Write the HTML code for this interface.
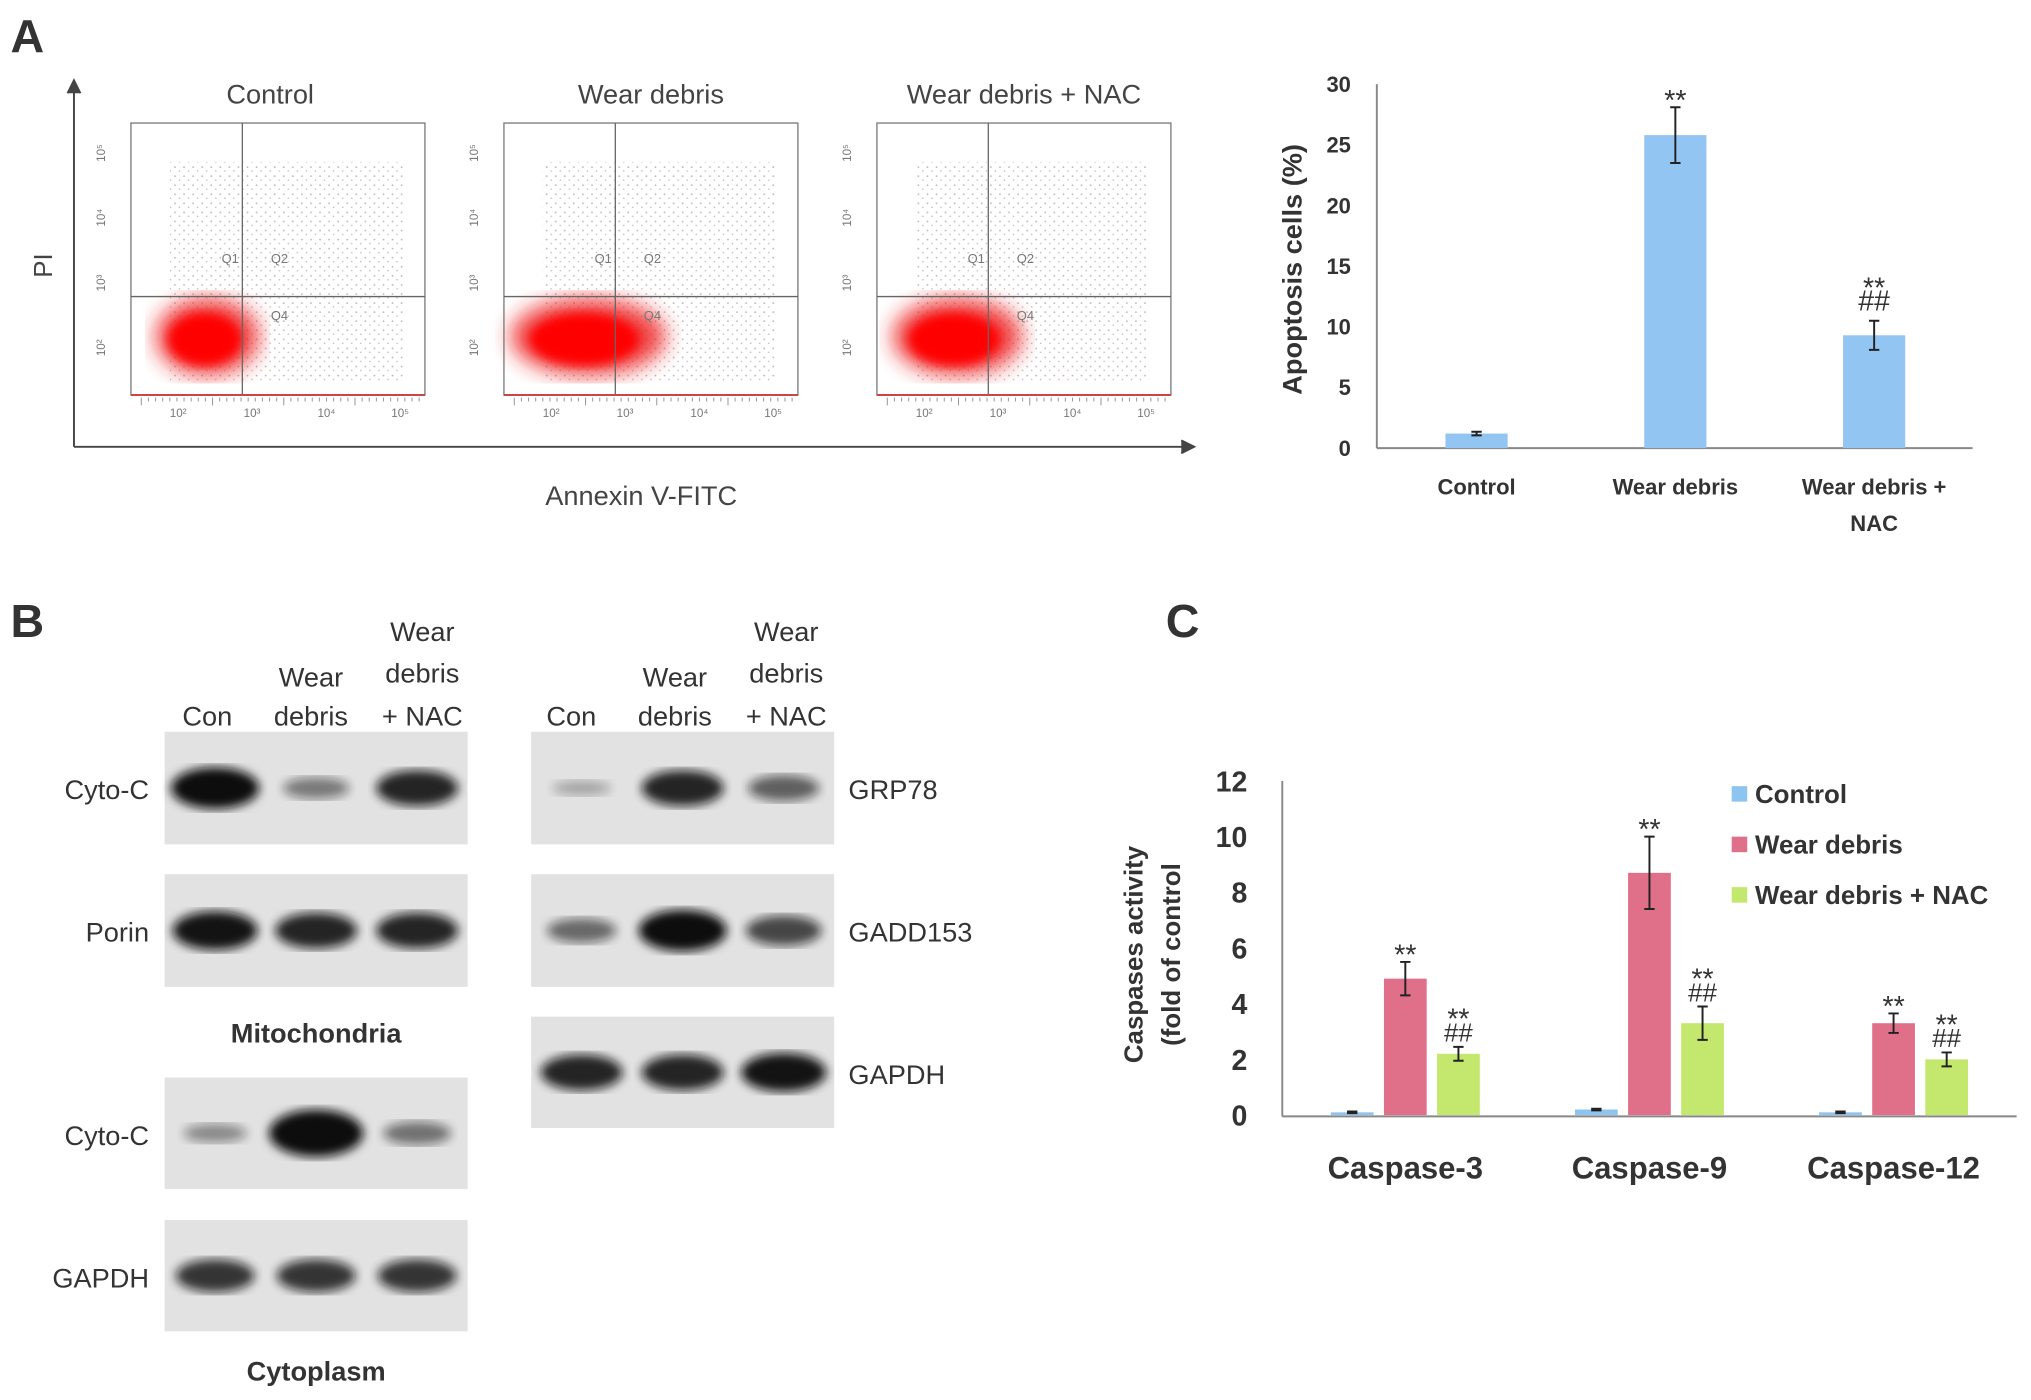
<!DOCTYPE html>
<html><head><meta charset="utf-8"><style>
html,body{margin:0;padding:0;background:#fff}
svg{display:block;font-family:"Liberation Sans",sans-serif}
</style></head><body>
<svg id="fig" width="2031" height="1400" viewBox="0 0 1568 1081" xmlns="http://www.w3.org/2000/svg">
<defs>
<filter id="blur4"><feGaussianBlur stdDeviation="4"/></filter>
<filter id="blur8"><feGaussianBlur stdDeviation="8"/></filter>
<filter id="blur2"><feGaussianBlur stdDeviation="2"/></filter>
<pattern id="dots" width="7" height="7" patternUnits="userSpaceOnUse"><circle cx="2" cy="3" r="0.7" fill="#a9a9b8"/><circle cx="5.5" cy="6" r="0.6" fill="#c0a0a8"/></pattern>
</defs>

<!-- Panel A -->
<text x="8" y="40" font-size="36" font-weight="bold" fill="#333">A</text>
<g stroke="#444" stroke-width="1.5" fill="none">
<line x1="57" y1="345" x2="57" y2="68"/><path d="M52,72 L57,62 L62,72" fill="#444"/>
<line x1="57" y1="345" x2="915" y2="345"/><path d="M912,340 L922,345 L912,350" fill="#444"/>
</g>
<text x="40" y="205" font-size="20" fill="#444" transform="rotate(-90 40 205)" text-anchor="middle">PI</text>
<text x="495" y="390" font-size="21" fill="#444" text-anchor="middle">Annexin V-FITC</text>
<g id="flowplots"></g>

<!-- Bar chart A -->
<g id="chartA"></g>

<!-- Panel B -->
<text x="8" y="492" font-size="36" font-weight="bold" fill="#333">B</text>
<g id="blots" font-size="21" fill="#333"></g>

<!-- Panel C -->
<text x="900" y="492" font-size="36" font-weight="bold" fill="#333">C</text>
<g id="chartC"></g>
</svg>
<script>
const NS="http://www.w3.org/2000/svg";
function mk(tag,attrs,parent,text){const e=document.createElementNS(NS,tag);for(const k in attrs)e.setAttribute(k,attrs[k]);if(text!==undefined)e.textContent=text;parent.appendChild(e);return e;}

// ---------- Flow plots ----------
const flowTitles=["Control","Wear debris","Wear debris + NAC"];
const flowX=[101,389,677];
const blobSpread=[1,1.5,1.25];
const fp=document.getElementById('flowplots');
flowTitles.forEach((t,i)=>{
  const x=flowX[i],y=95,w=227,h=210;
  const g=mk('g',{},fp);
  
  
  const tt=mk('text',{x:x+w/2+(i==0?-6:0),y:80,'font-size':21,'text-anchor':'middle',fill:'#444'},g,t);
  
  
  mk('rect',{x:x+30,y:y+30,width:180,height:170,fill:'url(#dots)',opacity:0.8},g);
  const s=blobSpread[i];
  mk('ellipse',{cx:x+47+s*12,cy:y+165,rx:40*s,ry:30,fill:'#e22',filter:'url(#blur8)',opacity:0.85},g);
  mk('ellipse',{cx:x+47+s*10,cy:y+167,rx:28*s,ry:20,fill:'#f00',filter:'url(#blur4)'},g);
  mk('rect',{x:x,y:y,width:w,height:h,fill:'none',stroke:'#777','stroke-width':1},g);
  mk('line',{x1:x+86,y1:y,x2:x+86,y2:y+h,stroke:'#666'},g);
  mk('line',{x1:x,y1:y+134,x2:x+w,y2:y+134,stroke:'#666'},g);
  mk('line',{x1:x,y1:y+h,x2:x+w,y2:y+h,stroke:'#c44','stroke-width':1.5},g);
  [["Q1",70,108],["Q2",108,108],["Q4",108,152]].forEach(q=>mk('text',{x:x+q[1],y:y+q[2],'font-size':10,fill:'#777'},g,q[0]));
  ["10²","10³","10⁴","10⁵"].forEach((l,j)=>{mk('text',{x:x+30+j*57,y:y+227,'font-size':9,fill:'#777'},g,l);
    mk('text',{x:x-20,y:y+180-j*50,'font-size':9,fill:'#777',transform:`rotate(-90 ${x-20} ${y+180-j*50})`},g,l);});
  for(let k=0;k<40;k++){mk('line',{x1:x+8+k*5.5,y1:y+h+2,x2:x+8+k*5.5,y2:y+h+(k%10==0?8:5),stroke:'#999','stroke-width':0.8},g);}
});

// ---------- Chart A ----------
const catsA=["Control","Wear debris","Wear debris +\nNAC"];
const valsA=[1.2,25.8,9.3];
const errA=[0.15,2.3,1.2];
const sigA=["","**","**\n##"];
const ticksA=[0,5,10,15,20,25,30];
const cA=document.getElementById('chartA');
const yA=v=>346-v*(281/30), xA=i=>1140+i*153.5;
ticksA.forEach(t=>{const e=mk('text',{x:1043,y:yA(t)+6,'font-size':17,'font-weight':'bold','text-anchor':'end',fill:'#333'},cA,t);
});
mk('line',{x1:1063,y1:65,x2:1063,y2:346,stroke:'#888','stroke-width':1.5},cA);
mk('line',{x1:1063,y1:346,x2:1523,y2:346,stroke:'#888','stroke-width':1.5},cA);
const ttA=mk('text',{x:1005,y:208,'font-size':21,'font-weight':'bold','text-anchor':'middle',fill:'#333',transform:'rotate(-90 1005 208)'},cA,'Apoptosis cells (%)');

catsA.forEach((c,i)=>{
  const b=mk('rect',{x:xA(i)-24,y:yA(valsA[i]),width:48,height:346-yA(valsA[i]),fill:'#92c5f2'},cA);
  
  const t=yA(valsA[i]+errA[i]),bo=yA(valsA[i]-errA[i]);
  mk('path',{d:`M${xA(i)},${t}V${bo}M${xA(i)-4},${t}H${xA(i)+4}M${xA(i)-4},${bo}H${xA(i)+4}`,stroke:'#222','stroke-width':1.5,fill:'none'},cA);
  c.split('\n').forEach((l,j)=>mk('text',{x:xA(i),y:382+j*28,'font-size':17,'font-weight':'bold','text-anchor':'middle',fill:'#333'},cA,l));
  sigA[i].split('\n').filter(s=>s).forEach((s,j)=>mk('text',{x:xA(i),y:t-8-(sigA[i].includes('\n')?(1-j)*20:0)+ (s=="**"?10:0),'font-size':22,'text-anchor':'middle',fill:'#333'},cA,s));
});

// ---------- Blots ----------
const bl=document.getElementById('blots');
function blot(x,y,w,h,ints,name){
  const g=mk('g',{},bl);
  
  mk('rect',{x,y,width:w,height:h,fill:'#e2e2e2'},g);
  ints.forEach((v,i)=>{if(v<=0)return;const cx=x+w*(i*2+1)/6;
    mk('ellipse',{cx,cy:y+h/2,rx:22+v*12,ry:5+v*11,fill:'#111',opacity:Math.min(1,0.25+v*0.8),filter:'url(#blur4)'},g);});
}
function lbl(x,y,t,anchor,bold){const e=mk('text',{x,y,'text-anchor':anchor||'middle','font-weight':bold?'bold':'normal',fill:'#333'},bl,t);
  }
const lx=[160,240,326],rx=[441,521,607];
lbl(lx[0],560,"Con");lbl(lx[1],530,"Wear");lbl(lx[1],560,"debris");lbl(lx[2],495,"Wear");lbl(lx[2],527,"debris");lbl(lx[2],560,"+ NAC");
lbl(rx[0],560,"Con");lbl(rx[1],530,"Wear");lbl(rx[1],560,"debris");lbl(rx[2],495,"Wear");lbl(rx[2],527,"debris");lbl(rx[2],560,"+ NAC");
blot(127,565,234,87,[1.0,0.3,0.8],'cyto-c-mito-blot');lbl(115,617,"Cyto-C","end");
blot(127,675,234,87,[0.9,0.8,0.8],'porin-blot');lbl(115,727,"Porin","end");
lbl(244,805,"Mitochondria","middle",true);
blot(127,832,234,86,[0.2,1.2,0.35],'cyto-c-cyto-blot');lbl(115,884,"Cyto-C","end");
blot(127,942,234,86,[0.7,0.7,0.7],'gapdh-left-blot');lbl(115,994,"GAPDH","end");
lbl(244,1066,"Cytoplasm","middle",true);
blot(410,565,234,87,[0.05,0.8,0.45],'grp78-blot');lbl(655,617,"GRP78","start");
blot(410,675,234,87,[0.4,1.0,0.6],'gadd153-blot');lbl(655,727,"GADD153","start");
blot(410,785,234,86,[0.8,0.8,0.9],'gapdh-right-blot');lbl(655,837,"GAPDH","start");

// ---------- Chart C ----------
const catsC=["Caspase-3","Caspase-9","Caspase-12"];
const seriesNames=["Control","Wear debris","Wear debris + NAC"];
const ctrlVals=[0.1,0.2,0.1];
const wearVals=[4.9,8.7,3.3];
const nacVals=[2.2,3.3,2.0];
const ctrlErr=[0.03,0.03,0.03];
const wearErr=[0.6,1.3,0.35];
const nacErr=[0.25,0.6,0.25];
const sigWear=["**","**","**"];
const sigNac=["**\n##","**\n##","**\n##"];
const ticksC=[0,2,4,6,8,10,12];
const colorsC=['#8ec5f0','#e07089','#c4e86e'];
const cC=document.getElementById('chartC');
const yC=v=>861-v*(258/12), xC=i=>1085+i*188.5;
ticksC.forEach(t=>{const e=mk('text',{x:963,y:yC(t)+8,'font-size':22,'font-weight':'bold','text-anchor':'end',fill:'#333'},cC,t);
});
mk('line',{x1:990,y1:603,x2:990,y2:862,stroke:'#888','stroke-width':1.5},cC);
mk('line',{x1:990,y1:862,x2:1557,y2:862,stroke:'#888','stroke-width':1.5},cC);
const tc1=mk('text',{x:882,y:737,'font-size':20,'font-weight':'bold','text-anchor':'middle',fill:'#333',transform:'rotate(-90 882 737)'},cC,'Caspases activity');

mk('text',{x:911,y:737,'font-size':20,'font-weight':'bold','text-anchor':'middle',fill:'#333',transform:'rotate(-90 911 737)'},cC,'(fold of control');
const allV=[ctrlVals,wearVals,nacVals],allE=[ctrlErr,wearErr,nacErr];
catsC.forEach((c,i)=>{
  const e=mk('text',{x:xC(i),y:910,'font-size':24,'font-weight':'bold','text-anchor':'middle',fill:'#333'},cC,c);
  
  allV.forEach((vals,s)=>{
    const cx=xC(i)+(s-1)*41, v=vals[i];
    const b=mk('rect',{x:cx-16.5,y:yC(v),width:33,height:861-yC(v),fill:colorsC[s]},cC);
    
    const t=yC(v+allE[s][i]),bo=yC(v-allE[s][i]);
    mk('path',{d:`M${cx},${t}V${bo}M${cx-4},${t}H${cx+4}M${cx-4},${bo}H${cx+4}`,stroke:'#222','stroke-width':1.5,fill:'none'},cC);
    if(s==1) mk('text',{x:cx,y:t+2,'font-size':22,'text-anchor':'middle',fill:'#333'},cC,sigWear[i]);
    if(s==2){const p=sigNac[i].split('\n');mk('text',{x:cx,y:t-14,'font-size':22,'text-anchor':'middle',fill:'#333'},cC,p[0]);
      mk('text',{x:cx,y:t-4,'font-size':20,'text-anchor':'middle',fill:'#333'},cC,p[1]);}
  });
});
seriesNames.forEach((n,s)=>{
  const g=mk('g',{},cC);
  
  mk('rect',{x:1337,y:607+s*39,width:12,height:12,fill:colorsC[s]},g);
  mk('text',{x:1355,y:620+s*39,'font-size':20,'font-weight':'bold',fill:'#333'},g,n);
});
</script>
</body></html>
